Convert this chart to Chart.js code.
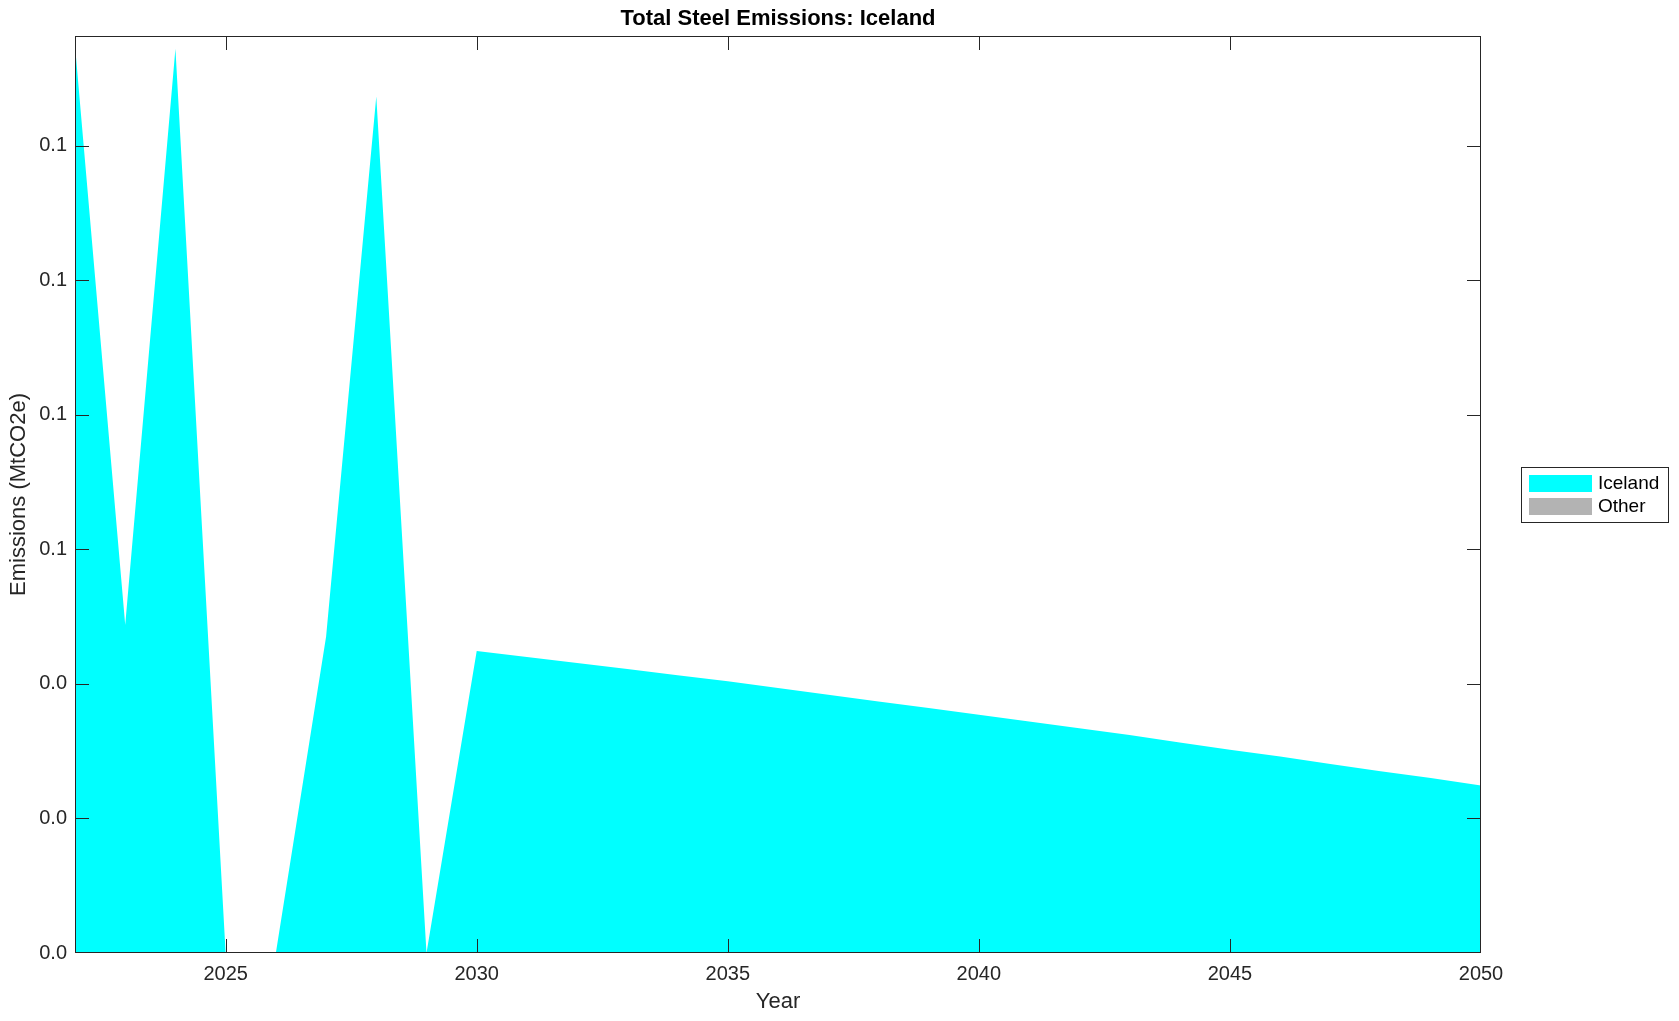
<!DOCTYPE html>
<html>
<head>
<meta charset="utf-8">
<title>Total Steel Emissions: Iceland</title>
<script src="https://cdn.jsdelivr.net/npm/chart.js@4.4.1/dist/chart.umd.min.js"></script>
<style>
  html, body { margin: 0; padding: 0; background: #fff; }
  canvas { display: block; }
</style>
</head>
<body>
<canvas id="grafico" width="1679" height="1021"></canvas>
<script>
// dati
const anni = [2022, 2023, 2024, 2025, 2026, 2027, 2028, 2029, 2030, 2031, 2032, 2033, 2034, 2035,
  2036, 2037, 2038, 2039, 2040, 2041, 2042, 2043, 2044, 2045, 2046, 2047, 2048, 2049, 2050];
const iceland = [0.1349, 0.0488, 0.1344, 0, 0, 0.0470, 0.1273, 0, 0.0449, 0.0440, 0.0431, 0.0422,
  0.0413, 0.0404, 0.0394, 0.0384, 0.0374, 0.0364, 0.0354, 0.0344, 0.0334, 0.0324, 0.0313, 0.0302,
  0.0292, 0.0281, 0.0270, 0.0260, 0.0249];
const other = anni.map(() => 0);
const nomiSerie = ["Iceland", "Other"];
const xTicks = [2025, 2030, 2035, 2040, 2045, 2050];
const yTicks = [0, 0.02, 0.04, 0.06, 0.08, 0.10, 0.12];
const titolo = "Total Steel Emissions: Iceland";

const INK = "#262626";
const FONT = "'Liberation Sans', Arial, Helvetica, sans-serif";

// titolo, bordo degli assi, tacche interne e legenda stile MATLAB
const assiMatlab = {
  id: "assiMatlab",
  afterDatasetsDraw(chart) {
    const ctx = chart.ctx;
    const a = chart.chartArea;
    const xs = chart.scales.x;
    const ys = chart.scales.y;
    const tl = 14;
    ctx.save();

    // titolo centrato sugli assi
    ctx.fillStyle = "#000";
    ctx.font = "bold 22px " + FONT;
    ctx.textAlign = "center";
    ctx.textBaseline = "middle";
    ctx.fillText(titolo, (a.left + a.right) / 2, 19);

    ctx.strokeStyle = INK;
    ctx.lineWidth = 1;
    ctx.strokeRect(a.left + 0.5, a.top + 0.5, a.right - a.left - 1, a.bottom - a.top - 1);
    ctx.beginPath();
    xs.ticks.forEach(t => {
      const px = Math.round(xs.getPixelForValue(t.value)) + 0.5;
      if (px <= a.left + 1 || px >= a.right - 1) return; // coincide con il bordo
      ctx.moveTo(px, a.bottom); ctx.lineTo(px, a.bottom - tl);
      ctx.moveTo(px, a.top); ctx.lineTo(px, a.top + tl);
    });
    ys.ticks.forEach(t => {
      const py = Math.round(ys.getPixelForValue(t.value)) + 0.5;
      if (py <= a.top + 1 || py >= a.bottom - 1) return;
      ctx.moveTo(a.left, py); ctx.lineTo(a.left + tl, py);
      ctx.moveTo(a.right, py); ctx.lineTo(a.right - tl, py);
    });
    ctx.stroke();

    // legenda
    const lx = a.right + 40, ly = 467, lw = 147, lh = 55;
    ctx.fillStyle = "#fff";
    ctx.fillRect(lx, ly, lw, lh);
    ctx.strokeStyle = INK;
    ctx.strokeRect(lx + 0.5, ly + 0.5, lw, lh);
    ctx.font = "19px " + FONT;
    ctx.textBaseline = "middle";
    ctx.textAlign = "left";
    chart.data.datasets.forEach((ds, i) => {
      const cy = ly + 16 + i * 23;
      ctx.fillStyle = ds.backgroundColor;
      ctx.fillRect(lx + 8, cy - 8, 63, 17);
      ctx.fillStyle = "#000";
      ctx.fillText(ds.label, lx + 77, cy + 1);
    });
    ctx.restore();
  }
};

const ctx = document.getElementById("grafico").getContext("2d");
new Chart(ctx, {
  type: "line",
  data: {
    datasets: [
      {
        label: nomiSerie[0],
        data: anni.map((x, i) => ({ x: x, y: iceland[i] })),
        backgroundColor: "#00ffff",
        borderColor: "rgba(0,0,0,0)",
        borderWidth: 0,
        pointRadius: 0,
        tension: 0,
        fill: "origin"
      },
      {
        label: nomiSerie[1],
        data: anni.map((x, i) => ({ x: x, y: other[i] })),
        backgroundColor: "#b3b3b3",
        borderColor: "rgba(0,0,0,0)",
        borderWidth: 0,
        pointRadius: 0,
        tension: 0,
        fill: "-1"
      }
    ]
  },
  options: {
    responsive: false,
    animation: false,
    layout: { padding: { left: 0, right: 198, top: 36, bottom: 0 } },
    plugins: {
      legend: { display: false },
      tooltip: { enabled: false },
      title: { display: false }
    },
    scales: {
      x: {
        type: "linear",
        min: 2022,
        max: 2050,
        afterBuildTicks: s => { s.ticks = xTicks.map(v => ({ value: v })); },
        afterFit: s => { s.height = 68; },
        grid: { display: false, drawTicks: false },
        border: { display: false },
        ticks: {
          color: INK,
          padding: 9,
          maxRotation: 0,
          font: { family: FONT, size: 20 },
          callback: v => String(v)
        },
        title: {
          display: true,
          text: "Year",
          color: INK,
          font: { family: FONT, size: 22, lineHeight: 1.2 },
          padding: { top: 0, bottom: 6 }
        }
      },
      y: {
        type: "linear",
        stacked: true,
        min: 0,
        max: 0.1363,
        afterBuildTicks: s => { s.ticks = yTicks.map(v => ({ value: v })); },
        afterFit: s => { s.width = 75; },
        grid: { display: false, drawTicks: false },
        border: { display: false },
        ticks: {
          color: INK,
          padding: 8,
          font: { family: FONT, size: 20 },
          callback: v => Number(v).toFixed(1)
        },
        title: {
          display: true,
          text: "Emissions (MtCO2e)",
          color: INK,
          font: { family: FONT, size: 22, lineHeight: 1.2 },
          padding: { top: 6, bottom: 0 }
        }
      }
    }
  },
  plugins: [assiMatlab]
});
</script>
</body>
</html>
